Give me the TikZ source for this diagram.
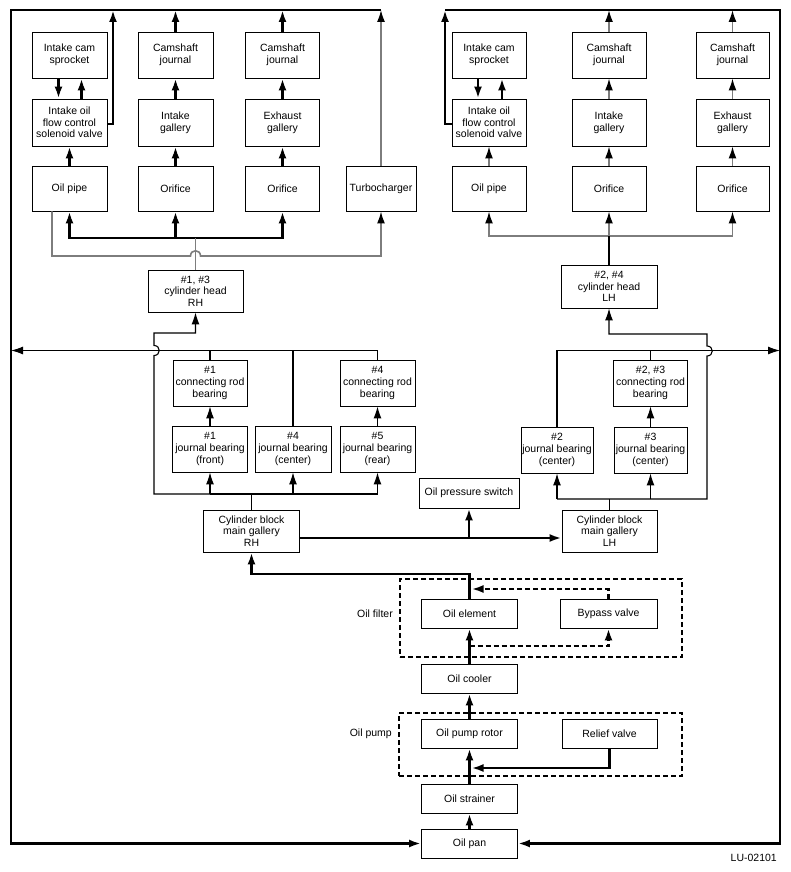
\documentclass[tikz,border=0pt]{standalone}
\usepackage{fontspec}
\setmainfont{Liberation Sans}
\usetikzlibrary{arrows.meta}
\definecolor{pipegray}{RGB}{125,125,125}
\begin{document}
\begin{tikzpicture}[x=1pt,y=-1pt,
  box/.style={draw, line width=0.9pt, align=center, inner sep=1pt,
    font=\fontsize{10.5}{11.6}\selectfont},
  lbl/.style={inner sep=0pt, font=\fontsize{10.5}{11.6}\selectfont},
  ar/.style={-{Latex[length=12pt,width=8pt,color=black]}},
  tk/.style={draw=black, line width=2.4pt},
  md/.style={draw=black, line width=1.9pt},
  tn/.style={draw=black, line width=1.1pt},
  gr/.style={draw=pipegray, line width=1.6pt},
  dbox/.style={draw, line width=2pt, dash pattern=on 5pt off 3pt},
  dl/.style={dash pattern=on 5pt off 3pt}]
\useasboundingbox (0,0) rectangle (791,872);
\fill[white] (0,0) rectangle (791,872);
% helper coordinates
\coordinate (ytop) at (0,10);
\coordinate (fl) at (11,0);
\coordinate (fr) at (780,0);
\coordinate (lbar) at (0,238);
\coordinate (lgray) at (0,256);
\coordinate (rbar) at (0,236);
\coordinate (hline) at (0,350.5);
\coordinate (rhbar) at (0,494);
\coordinate (lhbar) at (0,499);
\coordinate (rhjog) at (0,333);
\coordinate (lhjog) at (0,334);
\coordinate (galy) at (0,538);
\coordinate (ret) at (0,574);
\coordinate (dtop) at (0,589);
\coordinate (dbot) at (0,646);
\coordinate (rel) at (0,768);
\coordinate (lvx) at (113,0);
\coordinate (rvx) at (445,0);
\coordinate (rhx) at (154,0);
\coordinate (lhx) at (707,0);

% ---------- top left (RH head) ----------
\node[box, minimum width=75pt, minimum height=46pt] (lsp) at (69.5,55) {Intake cam\\sprocket};
\node[box, minimum width=75pt, minimum height=47pt] (lvalve) at (69.5,122.5) {Intake oil\\flow control\\solenoid valve};
\node[box, minimum width=75pt, minimum height=45pt] (lpipe) at (69.5,188.5) {Oil pipe};
\node[box, minimum width=75pt, minimum height=46pt] (lcj1) at (175.5,55) {Camshaft\\journal};
\node[box, minimum width=75pt, minimum height=47pt] (lig) at (175.5,122.5) {Intake\\gallery};
\node[box, minimum width=75pt, minimum height=45pt] (lor1) at (175.5,188.5) {Orifice};
\node[box, minimum width=74pt, minimum height=46pt] (lcj2) at (282.5,55) {Camshaft\\journal};
\node[box, minimum width=74pt, minimum height=47pt] (leg) at (282.5,122.5) {Exhaust\\gallery};
\node[box, minimum width=74pt, minimum height=45pt] (lor2) at (282.5,188.5) {Orifice};
\node[box, minimum width=70pt, minimum height=45pt] (turbo) at (381,188.5) {Turbocharger};

% ---------- top right (LH head) ----------
\node[box, minimum width=74pt, minimum height=46pt] (rsp) at (489,55) {Intake cam\\sprocket};
\node[box, minimum width=74pt, minimum height=47pt] (rvalve) at (489,122.5) {Intake oil\\flow control\\solenoid valve};
\node[box, minimum width=74pt, minimum height=45pt] (rpipe) at (489,188.5) {Oil pipe};
\node[box, minimum width=74pt, minimum height=46pt] (rcj1) at (609,55) {Camshaft\\journal};
\node[box, minimum width=74pt, minimum height=47pt] (rig) at (609,122.5) {Intake\\gallery};
\node[box, minimum width=74pt, minimum height=45pt] (ror1) at (609,188.5) {Orifice};
\node[box, minimum width=73pt, minimum height=46pt] (rcj2) at (732.5,55) {Camshaft\\journal};
\node[box, minimum width=73pt, minimum height=47pt] (reg) at (732.5,122.5) {Exhaust\\gallery};
\node[box, minimum width=73pt, minimum height=45pt] (ror2) at (732.5,188.5) {Orifice};

% ---------- heads ----------
\node[box, minimum width=95pt, minimum height=42pt] (chr) at (195.5,291) {\#1, \#3\\cylinder head\\RH};
\node[box, minimum width=96pt, minimum height=43pt] (chl) at (609,286.5) {\#2, \#4\\cylinder head\\LH};

% ---------- bearings ----------
\node[box, minimum width=74pt, minimum height=46pt] (b1cr) at (210,383) {\#1\\connecting rod\\bearing};
\node[box, minimum width=75pt, minimum height=46pt] (b1jb) at (210,449) {\#1\\journal bearing\\(front)};
\node[box, minimum width=76pt, minimum height=46pt] (b4jb) at (293,449) {\#4\\journal bearing\\(center)};
\node[box, minimum width=75pt, minimum height=46pt] (b4cr) at (377.5,383) {\#4\\connecting rod\\bearing};
\node[box, minimum width=75pt, minimum height=46pt] (b5jb) at (377.5,449) {\#5\\journal bearing\\(rear)};
\node[box, minimum width=74pt, minimum height=46pt] (b23cr) at (650.5,383) {\#2, \#3\\connecting rod\\bearing};
\node[box, minimum width=72pt, minimum height=46pt] (b2jb) at (557,450) {\#2\\journal bearing\\(center)};
\node[box, minimum width=73pt, minimum height=46pt] (b3jb) at (650.5,450) {\#3\\journal bearing\\(center)};

% ---------- block & lower ----------
\node[box, minimum width=100pt, minimum height=30pt] (ops) at (469,493) {Oil pressure switch};
\node[box, minimum width=96pt, minimum height=42pt] (cbr) at (251.5,531) {Cylinder block\\main gallery\\RH};
\node[box, minimum width=95pt, minimum height=42pt] (cbl) at (609.5,531) {Cylinder block\\main gallery\\LH};
\node[dbox, minimum width=282pt, minimum height=78pt] (filter) at (541,618) {};
\node[box, minimum width=96pt, minimum height=29pt] (oelem) at (469.5,613.5) {Oil element};
\node[box, minimum width=97pt, minimum height=29pt] (bypass) at (608.5,613.5) {Bypass valve};
\node[box, minimum width=96pt, minimum height=29pt] (cooler) at (469.5,678.5) {Oil cooler};
\node[dbox, minimum width=283pt, minimum height=63pt] (pump) at (540.5,744.5) {};
\node[box, minimum width=96pt, minimum height=29pt] (rotor) at (469.5,733.5) {Oil pump rotor};
\node[box, minimum width=95pt, minimum height=29pt] (relief) at (609.5,733.5) {Relief valve};
\node[box, minimum width=96pt, minimum height=29pt] (strainer) at (469.5,798.5) {Oil strainer};
\node[box, minimum width=96pt, minimum height=29pt] (pan) at (469.5,843.5) {Oil pan};
\node[lbl, anchor=east] (lfilter) at (393,614) {Oil filter};
\node[lbl, anchor=east] (lpump) at (392,734) {Oil pump};
\node[lbl, anchor=east] (code) at (777,858) {LU-02101};

% ---------- frame ----------
\draw[tk, ar, line join=miter] (turbo.north |- ytop) -- (fl |- ytop) -- (fl |- pan) -- (pan.west);
\draw[tk, ar, line join=miter] (rvx |- ytop) -- (fr |- ytop) -- (fr |- pan) -- (pan.east);

% ---------- top left connections ----------
\draw[tk, ar] ([xshift=-11pt]lsp.south) -- ([xshift=-11pt]lvalve.north);
\draw[tk, ar] ([xshift=12pt]lvalve.north) -- ([xshift=12pt]lsp.south);
\draw[tk, ar, line join=miter] ([yshift=-1.5pt]lvalve.east) -- ([yshift=-1.5pt]lvalve.east -| lvx) -- (lvx |- ytop);
\draw[tk, ar] (lpipe.north) -- (lvalve.south);
\draw[tk, ar] (lor1.north) -- (lig.south);
\draw[tk, ar] (lig.north) -- (lcj1.south);
\draw[tk, ar] (lcj1.north) -- (lcj1.north |- ytop);
\draw[tk, ar] (lor2.north) -- (leg.south);
\draw[tk, ar] (leg.north) -- (lcj2.south);
\draw[tk, ar] (lcj2.north) -- (lcj2.north |- ytop);
\draw[gr, ar] (turbo.north) -- (turbo.north |- ytop);
\draw[tk, ar, line join=miter] (lor1.south |- lbar) -- (lpipe.south |- lbar) -- (lpipe.south);
\draw[tk, ar, line join=miter] (lor1.south |- lbar) -- (lor2.south |- lbar) -- (lor2.south);
\draw[tk, ar] (lor1.south |- lbar) -- (lor1.south);
\draw[gr] (chr.north) -- (chr.north |- lbar);
\draw[gr, ar, line join=miter] ([xshift=-17.5pt]lpipe.south) -- ([xshift=-17.5pt]lpipe.south |- lgray)
  -- (190.5,256) .. controls (190.5,249) and (200.5,249) .. (200.5,256)
  -- (turbo.south |- lgray) -- (turbo.south);

% ---------- top right connections ----------
\draw[tk, ar] ([xshift=-11pt]rsp.south) -- ([xshift=-11pt]rvalve.north);
\draw[tk, ar] ([xshift=13pt]rvalve.north) -- ([xshift=13pt]rsp.south);
\draw[tk, ar, line join=miter] ([yshift=-1.5pt]rvalve.west) -- ([yshift=-1.5pt]rvalve.west -| rvx) -- (rvx |- ytop);
\draw[gr, ar] (rpipe.north) -- (rvalve.south);
\draw[gr, ar] (ror1.north) -- (rig.south);
\draw[gr, ar] (rig.north) -- (rcj1.south);
\draw[gr, ar] (rcj1.north) -- (rcj1.north |- ytop);
\draw[gr, ar] (ror2.north) -- (reg.south);
\draw[gr, ar] (reg.north) -- (rcj2.south);
\draw[gr, ar] (rcj2.north) -- (rcj2.north |- ytop);
\draw[gr, ar, line join=miter] (ror1.south |- rbar) -- (rpipe.south |- rbar) -- (rpipe.south);
\draw[gr, ar, line join=miter] (ror1.south |- rbar) -- (ror2.south |- rbar) -- (ror2.south);
\draw[gr, ar] (ror1.south |- rbar) -- (ror1.south);
\draw[tn] (chl.north) -- (chl.north |- rbar);

% ---------- RH bearings ----------
\draw[tn, ar, line join=miter] (b1jb.south |- rhbar) -- (rhx |- rhbar) -- (154,355.5)
  .. controls (161,355.5) and (161,345.5) .. (154,345.5)
  -- (rhx |- rhjog) -- (chr.south |- rhjog) -- (chr.south);
\draw[tn, ar, line join=miter] (b4cr.north) -- (b4cr.north |- hline) -- (fl |- hline);
\draw[tn] (b1cr.north |- hline) -- (b1cr.north);
\draw[md] (b4jb.north |- hline) -- (b4jb.north);
\draw[tn, ar] (b1jb.north) -- (b1cr.south);
\draw[tn, ar] (b5jb.north) -- (b4cr.south);
\draw[tn, ar, line join=miter] (b1jb.south |- rhbar) -- (b5jb.south |- rhbar) -- (b5jb.south);
\draw[tn, ar] (b1jb.south |- rhbar) -- (b1jb.south);
\draw[tn, ar] (b4jb.south |- rhbar) -- (b4jb.south);
\draw[md] (cbr.north) -- (cbr.north |- rhbar);

% ---------- LH bearings ----------
\draw[tn, ar, line join=miter] (b2jb.south |- lhbar) -- (lhx |- lhbar) -- (707,356)
  .. controls (714,356) and (714,346) .. (707,346)
  -- (lhx |- lhjog) -- (chl.south |- lhjog) -- (chl.south);
\draw[tn, ar, line join=miter] (b2jb.north) -- (b2jb.north |- hline) -- (fr |- hline);
\draw[tn] (b23cr.north |- hline) -- (b23cr.north);
\draw[tn, ar] (b3jb.north) -- (b23cr.south);
\draw[tn, ar] (b2jb.south |- lhbar) -- (b2jb.south);
\draw[tn, ar] (b3jb.south |- lhbar) -- (b3jb.south);
\draw[md] (cbl.north) -- (cbl.north |- lhbar);

% ---------- main galleries and lower circuit ----------
\draw[tk, ar] (cbr.east |- galy) -- (cbl.west |- galy);
\draw[tk, ar] (ops.south |- galy) -- (ops.south);
\draw[tk, ar, line join=miter] (oelem.north) -- (oelem.north |- ret) -- (cbr.south |- ret) -- (cbr.south);
\draw[tk, dl, ar, line join=miter] (bypass.north) -- (bypass.north |- dtop) -- ([xshift=2pt]oelem.north |- dtop);
\draw[tk, dl, ar, line join=miter] (oelem.south |- dbot) -- (bypass.south |- dbot) -- (bypass.south);
\draw[tk, ar] (cooler.north) -- (oelem.south);
\draw[tk, ar] (rotor.north) -- (cooler.south);
\draw[tk, ar] (strainer.north) -- (rotor.south);
\draw[tk, ar, line join=miter] (relief.south) -- (relief.south |- rel) -- ([xshift=2pt]rotor.south |- rel);
\draw[tk, ar] (pan.north) -- (strainer.south);
\end{tikzpicture}
\end{document}
